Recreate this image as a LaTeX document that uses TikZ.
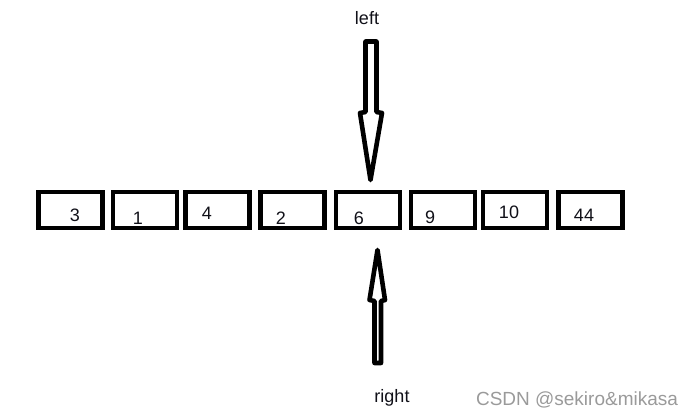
\documentclass[tikz,border=0pt]{standalone}
\usepackage{fontspec}
\setmainfont{Liberation Sans}
\usepackage{xcolor}
\usetikzlibrary{positioning,calc}
\definecolor{Ink}{HTML}{101018}
\definecolor{Mark}{HTML}{9A9A9A}

\begin{document}
\begin{tikzpicture}[x=1pt, y=-1pt, font=\fontsize{18}{21}\selectfont]
\tikzset{cell/.style={draw=black, line width=4.6pt, minimum width=64pt, minimum height=36pt, inner sep=0pt}, val/.style={text=Ink, inner sep=0pt}, hollow/.style={draw=black, line width=4.6pt, line join=round, fill=white}}
\useasboundingbox (0,0) rectangle (685,415);
% array cells
\foreach \n/\x in {1/70.5,2/145,3/217.5,4/292.5,5/368,6/443,7/515,8/590.5} \node[cell] (c\n) at (\x,210) {};
% values, written off-centre as in the sketch
\foreach \n/\v/\dx/\dy in {1/3/4.5/5,2/1/-7/8,3/4/-10.5/3,4/2/-11.5/8,5/6/-9/8,6/9/-13/7,7/10/-6/2,8/44/-6.5/5} \node[val] (v\n) at ($(c\n)+(\dx,\dy)$) {\v};
% pointers
\node[val] (left) at (367,18) {left};
\node[val] (right) at (392,398) {right};
\draw[hollow] (365.5,41.5) -- (376.5,41.5) -- (376.5,112) -- (382,113) -- (370.5,180) -- (360,113) -- (365.5,112) -- cycle;
\draw[hollow] (374.5,363) -- (381,363) -- (381,301) -- (385,300) -- (377.5,250) -- (369.5,300) -- (374.5,301) -- cycle;
\node[text=Mark, inner sep=0pt, font=\fontsize{19}{22}\selectfont] (mark) at (577,400) {CSDN @sekiro\&mikasa};
\end{tikzpicture}
\end{document}
